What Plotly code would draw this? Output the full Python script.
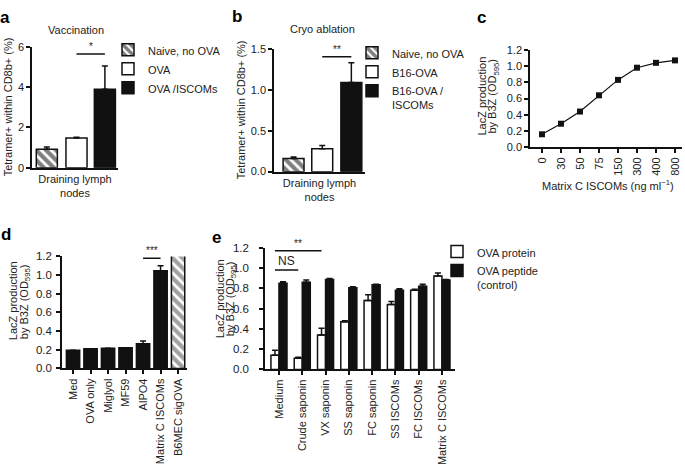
import plotly.graph_objects as go

# ---------------- data ----------------
# panel a
a_groups = ["Naive, no OVA", "OVA", "OVA /ISCOMs"]
a_category = "Draining lymph<br>nodes"
a_values = [0.92, 1.48, 3.9]
a_errors = [0.11, 0.03, 1.15]
a_sig = ["*"]
a_sig_y = [5.65]

# panel b
b_groups = ["Naive, no OVA", "B16-OVA", "B16-OVA /<br>ISCOMs"]
b_category = "Draining lymph<br>nodes"
b_values = [0.16, 0.28, 1.09]
b_errors = [0.02, 0.04, 0.24]
b_sig = ["**"]
b_sig_y = [1.405]

# panel c
c_doses = ["0", "30", "50", "75", "150", "300", "400", "800"]
c_values = [0.16, 0.29, 0.44, 0.64, 0.83, 0.98, 1.04, 1.07]

# panel d
d_categories = ["Med", "OVA only", "Miglyol", "MF59", "AlPO4", "Matrix C ISCOMs", "B6MEC sigOVA"]
d_values = [0.195, 0.21, 0.215, 0.222, 0.264, 1.045, 1.215]
d_errors = [0.0, 0.0, 0.0, 0.0, 0.03, 0.055, 0.0]
d_sig = ["***"]
d_sig_y = [1.18]

# panel e
e_categories = ["Medium", "Crude saponin", "VX saponin", "SS saponin", "FC saponin",
                "SS ISCOMs", "FC ISCOMs", "Matrix C ISCOMs"]
e_protein = [0.14, 0.11, 0.34, 0.47, 0.68, 0.64, 0.78, 0.92]
e_protein_err = [0.05, 0.01, 0.065, 0.01, 0.055, 0.03, 0.01, 0.03]
e_peptide = [0.85, 0.86, 0.885, 0.805, 0.835, 0.78, 0.82, 0.88]
e_peptide_err = [0.015, 0.02, 0.01, 0.01, 0.005, 0.015, 0.02, 0.005]
e_series = ["OVA protein", "OVA peptide<br>(control)"]
e_sig = ["**", "NS"]
e_sig_y = [1.17, 0.98]

# ---------------- style ----------------
W, H = 685, 467
FONT = "Liberation Sans, Arial, sans-serif"
TXT = "#222222"
BLACK = "#111111"


def px_x(p):
    return p / W


def px_y(p):
    return 1 - p / H


fig = go.Figure()

err_style = dict(type="data", symmetric=False, color=BLACK, thickness=1.5, width=3)
hatch = dict(fgcolor="#000000", bgcolor="white", size=7, solidity=0.6)

# --- panel a ---
a_fill = ["white", "white", BLACK]
a_shape = ["\\", "", ""]
a_offsets = [-0.45, -0.105, 0.225]
a_width = 0.245
for i, name in enumerate(a_groups):
    fig.add_trace(go.Bar(
        x=[a_category], y=[a_values[i]], name=name, xaxis="x", yaxis="y",
        offset=a_offsets[i], width=a_width, legend="legend",
        marker=dict(color=a_fill[i], line=dict(color=BLACK, width=1.5),
                    pattern=dict(shape=a_shape[i], **hatch)),
        error_y=dict(array=[a_errors[i]], arrayminus=[0], **err_style),
        cliponaxis=False,
    ))

# --- panel b ---
b_offsets = [-0.40, -0.085, 0.235]
b_width = 0.23
for i, name in enumerate(b_groups):
    fig.add_trace(go.Bar(
        x=[b_category], y=[b_values[i]], name=name, xaxis="x2", yaxis="y2",
        offset=b_offsets[i], width=b_width, legend="legend2",
        marker=dict(color=a_fill[i], line=dict(color=BLACK, width=1.5),
                    pattern=dict(shape=a_shape[i], **hatch)),
        error_y=dict(array=[b_errors[i]], arrayminus=[0], **err_style),
        cliponaxis=False,
    ))

# --- panel c ---
fig.add_trace(go.Scatter(
    x=c_doses, y=c_values, mode="lines+markers", xaxis="x3", yaxis="y3",
    showlegend=False, line=dict(color=BLACK, width=1.2),
    marker=dict(symbol="square", size=6, color=BLACK),
    cliponaxis=False,
))

# --- panel d ---
d_fill = [BLACK] * (len(d_categories) - 1) + ["white"]
d_shape = [""] * (len(d_categories) - 1) + ["\\"]
fig.add_trace(go.Bar(
    x=d_categories, y=d_values, xaxis="x4", yaxis="y4", showlegend=False,
    width=0.76,
    marker=dict(color=d_fill, line=dict(color=BLACK, width=1.5),
                pattern=dict(shape=d_shape, **hatch)),
    error_y=dict(array=d_errors, arrayminus=[0] * len(d_errors), **err_style),
    cliponaxis=False,
))

# --- panel e ---
fig.add_trace(go.Bar(
    x=e_categories, y=e_protein, name=e_series[0], xaxis="x5", yaxis="y5",
    legend="legend3",
    marker=dict(color="white", line=dict(color=BLACK, width=1.5)),
    error_y=dict(array=e_protein_err, arrayminus=[0] * 8, **err_style),
    cliponaxis=False,
))
fig.add_trace(go.Bar(
    x=e_categories, y=e_peptide, name=e_series[1], xaxis="x5", yaxis="y5",
    legend="legend3",
    marker=dict(color=BLACK, line=dict(color=BLACK, width=1.5)),
    error_y=dict(array=e_peptide_err, arrayminus=[0] * 8, **err_style),
    cliponaxis=False,
))

# ---------------- axes ----------------
def yax(domain_px, rng, dtick, fmt, size=11, standoff=0):
    return dict(domain=[px_y(domain_px[0]), px_y(domain_px[1])], range=rng, dtick=dtick,
                tickformat=fmt, showline=True, linecolor=BLACK, linewidth=1.5,
                ticks="outside", ticklen=4, tickwidth=1.5, tickcolor=BLACK,
                ticklabelstandoff=standoff,
                showgrid=False, zeroline=False,
                tickfont=dict(family=FONT, size=size, color=TXT), fixedrange=True)


def xax(domain_px, rng, ticks, angle=0):
    return dict(domain=[px_x(domain_px[0]), px_x(domain_px[1])], range=rng, type="category",
                showline=True, linecolor=BLACK, linewidth=1.5, ticks=ticks, ticklen=4,
                tickwidth=1.5, tickcolor=BLACK, showgrid=False, zeroline=False,
                tickfont=dict(family=FONT, size=11, color=TXT), tickangle=angle,
                fixedrange=True)


fig.update_layout(
    xaxis=dict(xax([32, 118], [-0.5, 0.5], ""), anchor="y"),
    yaxis=dict(yax([166, 42], [0, 6], 2, "d"), anchor="x"),
    xaxis2=dict(xax([274, 365], [-0.5, 0.5], ""), anchor="y2"),
    yaxis2=dict(yax([170, 44], [0, 1.5], 0.5, ".1f"), anchor="x2"),
    xaxis3=dict(xax([530, 682], [-0.63, 7.37], "outside", -90), anchor="y3"),
    yaxis3=dict(yax([145, 45], [0, 1.2], 0.2, ".1f"), anchor="x3"),
    xaxis4=dict(xax([62, 187], [-0.63, 6.51], "outside", -90), anchor="y4"),
    yaxis4=dict(yax([372, 257], [0, 1.2], 0.2, ".1f", size=11.5, standoff=2), anchor="x4"),
    xaxis5=dict(xax([265, 455], [-0.6, 7.56], "outside", -90), anchor="y5"),
    yaxis5=dict(yax([373, 248], [0, 1.2], 0.2, ".1f", size=11.5, standoff=8), anchor="x5"),
)

# ---------------- legends ----------------
leg_common = dict(font=dict(family=FONT, size=11, color=TXT), bgcolor="rgba(0,0,0,0)",
                  xanchor="left", yanchor="top", tracegroupgap=0, itemclick=False,
                  itemdoubleclick=False, valign="top")
fig.update_layout(
    legend=dict(leg_common, x=px_x(108), y=px_y(31)),
    legend2=dict(leg_common, x=px_x(352), y=px_y(34)),
    legend3=dict(leg_common, x=px_x(437), y=px_y(238)),
    barmode="group", bargap=0.31, bargroupgap=0.0,
)

# ---------------- annotations & significance ----------------
ann = []
shapes = []


def paper_text(text, x, y, size=11, angle=0, bold=False, color=TXT):
    ann.append(dict(text=f"<b>{text}</b>" if bold else text, x=px_x(x), y=px_y(y),
                    xref="paper", yref="paper", showarrow=False, textangle=angle,
                    xanchor="center", yanchor="middle",
                    font=dict(family=FONT, size=size, color=color)))


for letter, (lx, ly) in zip("abcde", [(5, 12), (237, 11), (481, 12), (6, 235), (216, 238)]):
    paper_text(letter, lx, ly, size=17, bold=True, color="#000000")

paper_text("Vaccination", 76, 25)
paper_text("Cryo ablation", 322, 24)
paper_text("Tetramer+ within CD8b+ (%)", 8, 104, angle=-90)
paper_text("Tetramer+ within CD8b+ (%)", 241, 107, angle=-90)
ytitle_lines = ["LacZ production", "by B3Z (OD<sub>595</sub>)"]
for (x1, x2, yc) in [(482, 493, 93), (13, 25, 303), (220, 231, 301)]:
    paper_text(ytitle_lines[0], x1, yc, angle=-90)
    paper_text(ytitle_lines[1], x2, yc, angle=-90)
paper_text("Matrix C ISCOMs (ng ml<sup>−1</sup>)", 608, 184)


def sig(xref, yref, x0, x1, y, label, size=10):
    shapes.append(dict(type="line", xref=xref, yref=yref, x0=x0, x1=x1, y0=y, y1=y,
                       line=dict(color=BLACK, width=1.5)))
    ann.append(dict(text=label, xref=xref, yref=yref, x=(x0 + x1) / 2, y=y,
                    showarrow=False, yanchor="bottom", xanchor="center", yshift=0,
                    font=dict(family=FONT, size=size, color=TXT)))


sig("x", "y", a_offsets[1] + a_width / 2, a_offsets[2] + a_width / 2, a_sig_y[0], a_sig[0])
sig("x2", "y2", b_offsets[1] + b_width / 2, b_offsets[2] + b_width / 2, b_sig_y[0], b_sig[0])
sig("x4", "y4", 4, 5, d_sig_y[0], d_sig[0])
half = (1 - 0.31) / 4  # centre of the first bar in each pair
sig("x5", "y5", 0 - half, 2 - half, e_sig_y[0], e_sig[0])
sig("x5", "y5", 0 - half, 1 - half, e_sig_y[1], e_sig[1], size=12)

fig.update_layout(
    annotations=ann, shapes=shapes,
    width=W, height=H, margin=dict(l=0, r=0, t=0, b=0),
    paper_bgcolor="white", plot_bgcolor="white",
    font=dict(family=FONT, size=11, color=TXT),
)

fig.write_html("out.html", config={"displayModeBar": False},
               post_script="document.body.style.margin='0px';")
